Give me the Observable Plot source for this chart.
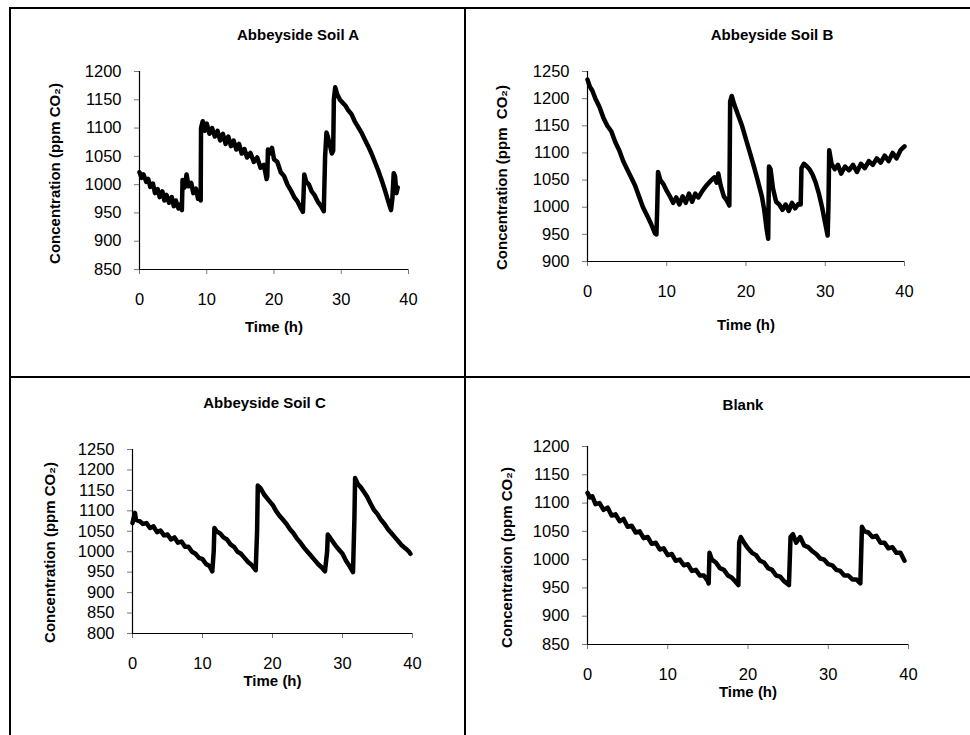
<!DOCTYPE html>
<html>
<head>
<meta charset="utf-8">
<script src="https://cdn.jsdelivr.net/npm/d3@7"></script>
<script src="https://cdn.jsdelivr.net/npm/@observablehq/plot@0.6"></script>
<style>
  html, body { margin: 0; padding: 0; background: #fff; }
  #wrap { position: relative; width: 970px; height: 735px; overflow: hidden; font-family: "Liberation Sans", Arial, sans-serif; }
  .rule { position: absolute; background: #000; }
  .cell { position: absolute; }
</style>
</head>
<body>
<div id="wrap">
  <div class="rule" style="left:9px;top:7px;width:961px;height:2px"></div>
  <div class="rule" style="left:9px;top:7px;width:2px;height:728px"></div>
  <div class="rule" style="left:464px;top:7px;width:2px;height:728px"></div>
  <div class="rule" style="left:9px;top:376px;width:961px;height:2px"></div>
  <div class="cell" id="pA" style="left:10px;top:8px"></div>
  <div class="cell" id="pB" style="left:466px;top:8px"></div>
  <div class="cell" id="pC" style="left:10px;top:378px"></div>
  <div class="cell" id="pD" style="left:466px;top:378px"></div>
</div>
<script>
// ---- Data ----
const titles = ["Abbeyside Soil A", "Abbeyside Soil B", "Abbeyside Soil C", "Blank"];
const xTicks = [0, 10, 20, 30, 40];
const yLabelA = "Concentration (ppm CO₂)";
const yLabelB = "Concentration (ppm  CO₂)";
const xLabel = "Time (h)";

const timeA = [0,0.3,0.6,1.0,1.3,1.6,2.0,2.3,2.7,3.0,3.4,3.7,4.0,4.4,4.8,5.1,5.4,5.8,6.1,6.3,6.4,6.7,7.0,7.3,7.7,8.0,8.4,8.7,9.0,9.1,9.15,9.4,9.7,10.0,10.4,10.8,11.2,11.6,12.0,12.4,12.8,13.2,13.6,14.0,14.4,14.8,15.2,15.6,16.0,16.5,17.0,17.5,18.0,18.5,18.9,19.0,19.1,19.4,19.7,20.0,20.5,21.0,21.5,22.0,22.5,23.0,23.5,24.0,24.3,24.5,24.8,25.2,25.6,26.0,26.5,27.0,27.4,27.6,27.8,28.0,28.3,28.6,28.8,28.9,29.1,29.4,29.8,30.2,30.6,31.0,31.5,32.0,32.5,33.0,33.5,34.0,34.5,35.0,35.5,36.0,36.5,37.0,37.4,37.6,37.8,38.0,38.2,38.4];
const concA = [1022,1012,1018,1005,1010,996,1002,985,992,978,988,972,982,968,978,962,972,958,965,955,1008,995,1018,997,1003,985,993,975,980,972,1100,1112,1095,1108,1090,1100,1085,1095,1078,1090,1072,1085,1068,1078,1062,1072,1055,1063,1048,1056,1040,1048,1030,1035,1010,1015,1062,1055,1065,1045,1040,1022,1015,1000,990,978,970,958,952,1018,1005,1000,988,982,970,962,953,1050,1092,1085,1070,1055,1060,1150,1172,1160,1150,1145,1140,1132,1125,1112,1102,1092,1080,1068,1055,1040,1025,1008,990,970,955,975,1020,1015,985,995];

const timeB = [0,0.3,0.6,1.0,1.5,2.0,2.5,3.0,3.5,4.0,4.5,5.0,5.5,6.0,6.5,7.0,7.5,8.0,8.5,8.7,8.8,8.9,9.2,9.6,10.0,10.4,10.8,11.2,11.6,12.0,12.4,12.8,13.2,13.6,14.0,14.5,15.0,15.5,16.0,16.3,16.5,16.8,17.2,17.6,17.9,18.0,18.2,18.5,19.0,19.5,20.0,20.5,21.0,21.5,22.0,22.3,22.6,22.8,22.9,23.1,23.4,23.8,24.2,24.6,25.0,25.4,25.8,26.2,26.6,26.9,27.0,27.3,27.7,28.0,28.4,28.8,29.2,29.6,30.0,30.3,30.4,30.5,30.8,31.2,31.6,32.0,32.5,33.0,33.5,34.0,34.5,35.0,35.5,36.0,36.5,37.0,37.5,38.0,38.5,39.0,39.5,40.0];
const concB = [1235,1222,1215,1200,1185,1165,1150,1140,1120,1105,1085,1070,1055,1040,1020,1000,985,970,952,950,1000,1065,1050,1042,1030,1020,1008,1018,1005,1020,1008,1025,1010,1025,1018,1030,1040,1048,1055,1045,1062,1040,1020,1012,1003,1195,1205,1190,1170,1150,1125,1100,1075,1048,1020,995,960,942,1075,1070,1035,1010,1005,995,1005,993,1008,998,1006,1005,1072,1080,1075,1070,1060,1045,1025,1000,970,948,1000,1105,1080,1070,1078,1062,1075,1068,1078,1065,1080,1072,1085,1078,1090,1082,1095,1085,1100,1090,1105,1112];

const timeC = [0,0.2,0.35,0.5,1.0,1.5,2.0,2.5,3.0,3.5,4.0,4.5,5.0,5.5,6.0,6.5,7.0,7.5,8.0,8.5,9.0,9.5,10.0,10.5,11.0,11.4,11.6,11.7,12.0,12.5,13.0,13.5,14.0,14.5,15.0,15.5,16.0,16.5,17.0,17.6,17.8,17.9,18.3,18.8,19.5,20.0,20.5,21.0,21.5,22.0,22.5,23.0,23.5,24.0,24.5,25.0,25.5,26.0,26.5,27.0,27.5,27.8,27.9,28.2,28.6,29.0,29.5,30.0,30.5,31.0,31.5,31.7,31.8,32.2,32.6,33.0,33.5,34.0,34.5,35.0,35.5,36.0,36.5,37.0,37.5,38.0,38.5,39.0,39.5,39.7];
const concC = [1070,1085,1095,1078,1075,1068,1070,1058,1062,1048,1052,1040,1042,1030,1035,1022,1025,1012,1012,1000,995,985,982,970,965,952,1000,1058,1050,1045,1035,1030,1018,1012,1000,995,985,975,968,955,1050,1162,1155,1140,1125,1115,1100,1088,1078,1068,1055,1045,1032,1022,1010,1000,990,980,970,962,952,1000,1042,1035,1025,1015,1005,995,978,965,950,1080,1180,1165,1158,1148,1135,1118,1102,1092,1078,1068,1055,1045,1035,1025,1015,1008,1000,995];

const timeD = [0,0.3,0.6,1.0,1.5,2.0,2.5,3.0,3.5,4.0,4.5,5.0,5.5,6.0,6.5,7.0,7.5,8.0,8.5,9.0,9.5,10.0,10.5,11.0,11.5,12.0,12.5,13.0,13.5,14.0,14.5,15.0,15.1,15.2,15.5,16.0,16.5,17.0,17.5,18.0,18.5,18.8,18.9,19.1,19.5,20.0,20.5,21.0,21.5,22.0,22.5,23.0,23.5,24.0,24.5,25.1,25.3,25.6,26.0,26.5,27.0,27.5,28.0,28.5,29.0,29.5,30.0,30.5,31.0,31.5,32.0,32.5,33.0,33.5,34.0,34.2,34.5,35.0,35.5,36.0,36.5,37.0,37.5,38.0,38.5,39.0,39.5];
const concD = [1118,1110,1112,1098,1100,1088,1092,1078,1080,1068,1072,1058,1060,1048,1050,1038,1040,1028,1030,1018,1020,1008,1010,998,1000,990,992,980,982,972,972,962,958,1012,1000,995,985,982,972,968,960,955,1030,1040,1030,1020,1012,1008,998,995,985,982,972,970,962,955,1040,1045,1030,1040,1025,1022,1015,1010,1002,1000,992,990,982,980,972,972,965,965,958,1058,1050,1048,1040,1042,1030,1030,1020,1022,1012,1012,998];

const yDomains = [[850,1200],[900,1250],[800,1250],[850,1200]];

// ---- Drawing ----
function panel(opts) {
  const {t, c, yDomain, title, yLabel, width, height, margins, titleDx, titleDy, yLabDx, yLabDy, xLabDy} = opts;
  const data = t.map((d, i) => ({t: d, c: c[i]}));
  const yTicks = d3.range(yDomain[0], yDomain[1] + 1, 50);
  return Plot.plot({
    width, height,
    marginLeft: margins[0], marginRight: margins[1], marginTop: margins[2], marginBottom: margins[3],
    style: {fontFamily: "'Liberation Sans', Arial, sans-serif", fontSize: "16.5px", background: "transparent", overflow: "visible", color: "#000"},
    x: {domain: [0, 40]},
    y: {domain: yDomain},
    marks: [
      Plot.axisX({ticks: xTicks, tickFormat: d => String(d), tickSize: 5, tickPadding: 19, stroke: "#777", fill: "#000", label: null, fontSize: 16.5}),
      Plot.axisY({ticks: yTicks, tickFormat: d => String(d), tickSize: 5, tickPadding: 13, stroke: "#777", fill: "#000", label: null, fontSize: 16.5}),
      Plot.ruleX([0], {stroke: "#000", strokeWidth: 1.2}),
      Plot.ruleY([yDomain[0]], {stroke: "#000", strokeWidth: 1.2}),
      Plot.line(data, {x: "t", y: "c", stroke: "#000", strokeWidth: 4.5, strokeLinejoin: "round"}),
      Plot.text([title], {text: d => d, frameAnchor: "top", lineAnchor: "middle", dx: titleDx, dy: titleDy, fontWeight: "bold", fontSize: 15}),
      Plot.text([yLabel], {text: d => d, frameAnchor: "left", lineAnchor: "middle", textAnchor: "middle", rotate: -90, dx: yLabDx, dy: yLabDy, fontWeight: "bold", fontSize: 15}),
      Plot.text([xLabel], {text: d => d, frameAnchor: "bottom", lineAnchor: "middle", dy: xLabDy, fontWeight: "bold", fontSize: 15})
    ]
  });
}

document.getElementById("pA").appendChild(panel({
  t: timeA, c: concA, yDomain: yDomains[0], title: titles[0], yLabel: yLabelA,
  width: 455, height: 369, margins: [129, 57, 63, 108],
  titleDx: 24, titleDy: -36, yLabDx: -84, yLabDy: 3, xLabDy: 58
}));
document.getElementById("pB").appendChild(panel({
  t: timeB, c: concB, yDomain: yDomains[1], title: titles[1], yLabel: yLabelB,
  width: 504, height: 369, margins: [121, 66, 63, 116],
  titleDx: 26, titleDy: -36, yLabDx: -85, yLabDy: 11, xLabDy: 64
}));
document.getElementById("pC").appendChild(panel({
  t: timeC, c: concC, yDomain: yDomains[2], title: titles[2], yLabel: yLabelA,
  width: 455, height: 357, margins: [122, 53, 71, 102],
  titleDx: -8, titleDy: -46, yLabDx: -82, yLabDy: 11, xLabDy: 48
}));
document.getElementById("pD").appendChild(panel({
  t: timeD, c: concD, yDomain: yDomains[3], title: titles[3], yLabel: yLabelA,
  width: 504, height: 357, margins: [121, 62, 68, 91],
  titleDx: -5, titleDy: -41, yLabDx: -80, yLabDy: 12, xLabDy: 48
}));
</script>
</body>
</html>
